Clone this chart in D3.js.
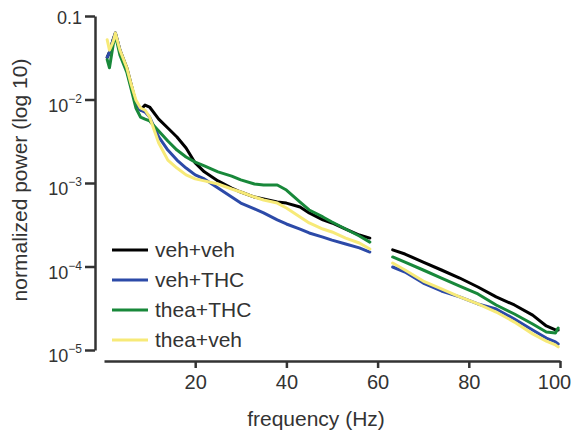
<!DOCTYPE html>
<html>
<head>
<meta charset="utf-8">
<script src="https://cdn.jsdelivr.net/npm/d3@7"></script>
<style>
body { margin: 0; background: #fff; }
text { font-family: "Liberation Sans", Arial, sans-serif; fill: #333; }
</style>
</head>
<body>
<div id="chart"></div>
<script>
// frequency bins (Hz), two bands either side of the 60 Hz notch
const freqLow = [0.7, 1.2, 2, 2.5, 3.5, 5, 6, 7, 8, 9, 10, 12, 14, 16, 18, 20, 22, 25, 28, 30, 33, 35, 38, 40, 43, 45, 48, 50, 53, 56, 58.3]
const freqHigh = [63.3, 66, 70, 74, 78, 82, 86, 90, 94, 97, 99, 99.6]

// normalized power per group
const vehVehLow = [0.032, 0.037, 0.052, 0.0625, 0.039, 0.024, 0.0149, 0.00908, 0.00748, 0.00859, 0.00813, 0.00583, 0.00456, 0.00356, 0.00262, 0.00174, 0.00136, 0.00106, 0.000871, 0.00078, 0.000679, 0.000643, 0.000592, 0.000575, 0.000516, 0.000438, 0.000361, 0.000332, 0.000281, 0.000238, 0.000219]
const vehThcLow = [0.032, 0.037, 0.052, 0.0625, 0.039, 0.0225, 0.0141, 0.00908, 0.00748, 0.00708, 0.00617, 0.00356, 0.00248, 0.00188, 0.00151, 0.00125, 0.00112, 0.000871, 0.000679, 0.000575, 0.000489, 0.000438, 0.000361, 0.000323, 0.000281, 0.000252, 0.000225, 0.000207, 0.000186, 0.000167, 0.000149]
const theaThcLow = [0.030, 0.024, 0.045, 0.059, 0.034, 0.0213, 0.013, 0.00791, 0.00617, 0.00583, 0.00553, 0.0042, 0.00318, 0.00248, 0.00205, 0.00178, 0.0016, 0.00136, 0.00121, 0.00109, 0.000973, 0.000946, 0.000946, 0.000824, 0.000592, 0.000475, 0.000392, 0.000341, 0.000281, 0.000232, 0.000196]
const theaVehLow = [0.052, 0.039, 0.049, 0.0625, 0.039, 0.024, 0.0149, 0.00986, 0.00791, 0.00748, 0.00617, 0.00301, 0.00188, 0.00151, 0.00125, 0.00112, 0.00106, 0.000973, 0.000847, 0.00078, 0.000679, 0.000625, 0.000575, 0.000502, 0.000392, 0.000332, 0.000281, 0.000259, 0.000219, 0.000191, 0.000162]

const vehVehHigh = [1.58e-4, 1.41e-4, 1.13e-4, 9.08e-5, 7.28e-5, 5.68e-5, 4.32e-5, 3.46e-5, 2.62e-5, 1.94e-5, 1.74e-5, 1.74e-5]
const vehThcHigh = [9.86e-5, 8.59e-5, 6.34e-5, 5.09e-5, 4.32e-5, 3.56e-5, 3.10e-5, 2.35e-5, 1.74e-5, 1.39e-5, 1.25e-5, 1.18e-5]
const theaThcHigh = [1.30e-4, 1.13e-4, 9.08e-5, 7.28e-5, 5.83e-5, 4.69e-5, 3.46e-5, 2.70e-5, 2.05e-5, 1.64e-5, 1.60e-5, 1.83e-5]
const theaVehHigh = [1.10e-4, 9.08e-5, 6.70e-5, 5.38e-5, 4.32e-5, 3.56e-5, 2.85e-5, 2.16e-5, 1.56e-5, 1.28e-5, 1.15e-5, 1.09e-5]

const seriesNames = ["veh+veh", "veh+THC", "thea+THC", "thea+veh"]
const seriesColors = ["#000000", "#2c4aa8", "#18883a", "#f7ea78"]
const xTicks = [20, 40, 60, 80, 100]
const yTicks = [0.1, 1e-2, 1e-3, 1e-4, 1e-5]

const width = 574
const height = 440

const series = [
	{ name: seriesNames[0], color: seriesColors[0], low: vehVehLow, high: vehVehHigh },
	{ name: seriesNames[1], color: seriesColors[1], low: vehThcLow, high: vehThcHigh },
	{ name: seriesNames[2], color: seriesColors[2], low: theaThcLow, high: theaThcHigh },
	{ name: seriesNames[3], color: seriesColors[3], low: theaVehLow, high: theaVehHigh }
]

const svg = d3.select("#chart")
	.append("svg")
	.attr("width", width)
	.attr("height", height)

const x = d3.scaleLinear().domain([0, 100]).range([104, 560])
const y = d3.scaleLog().domain([1e-5, 0.1]).range([350, 16])

const line = d3.line()
	.x(d => x(d[0]))
	.y(d => y(d[1]))

// curves
const curves = svg.append("g")
	.attr("fill", "none")
	.attr("stroke-width", 3)
	.attr("stroke-linejoin", "round")
	.attr("stroke-linecap", "round")

for (const s of series) {
	curves.append("path")
		.attr("stroke", s.color)
		.attr("d", line(d3.zip(freqLow, s.low)))
	curves.append("path")
		.attr("stroke", s.color)
		.attr("d", line(d3.zip(freqHigh, s.high)))
}

// x axis
const xAxis = svg.append("g")
	.attr("transform", "translate(0,361)")
	.call(d3.axisBottom(x).tickValues(xTicks).tickSize(7).tickSizeOuter(0).tickPadding(7))
xAxis.selectAll("path, line").attr("stroke", "#333").attr("stroke-width", 2.5)
xAxis.selectAll("text").attr("font-size", 20).attr("font-family", null).attr("fill", "#333")
// last label sits against the right edge, nudge it in like the original
xAxis.selectAll("text").filter(d => d === 100).attr("dx", -6)

// y axis
const yAxis = svg.append("g")
	.attr("transform", "translate(95,0)")
	.call(d3.axisLeft(y).tickValues(yTicks).tickSize(10).tickSizeOuter(0).tickFormat(""))
yAxis.selectAll("path, line").attr("stroke", "#333").attr("stroke-width", 2.5)

yAxis.selectAll(".tick").each(function (v) {
	const t = d3.select(this).append("text")
		.attr("x", -13)
		.attr("text-anchor", "end")
		.attr("font-size", 18)
		.attr("fill", "#333")
	const exp = Math.round(Math.log10(v))
	if (exp === -1) {
		t.attr("dy", "0.4em").text("0.1")
	} else {
		t.attr("dy", "0.65em")
		t.append("tspan").text("10")
		t.append("tspan").attr("font-size", 12).attr("dy", "-0.75em").text("\u2212" + (-exp))
	}
})

// axis titles
svg.append("text")
	.attr("x", 316)
	.attr("y", 426)
	.attr("text-anchor", "middle")
	.attr("font-size", 21)
	.text("frequency (Hz)")

svg.append("text")
	.attr("transform", "translate(27,180) rotate(-90)")
	.attr("text-anchor", "middle")
	.attr("font-size", 21)
	.text("normalized power (log 10)")

// legend
const legendY = d3.scalePoint().domain(seriesNames).range([250, 340])
const legend = svg.append("g")
	.selectAll("g")
	.data(series)
	.enter().append("g")
	.attr("transform", d => `translate(112,${legendY(d.name)})`)

legend.append("line")
	.attr("x1", 0)
	.attr("x2", 36)
	.attr("stroke", d => d.color)
	.attr("stroke-width", 3)

legend.append("text")
	.attr("x", 43)
	.attr("dy", "0.33em")
	.attr("font-size", 21)
	.text(d => d.name)
</script>
</body>
</html>
